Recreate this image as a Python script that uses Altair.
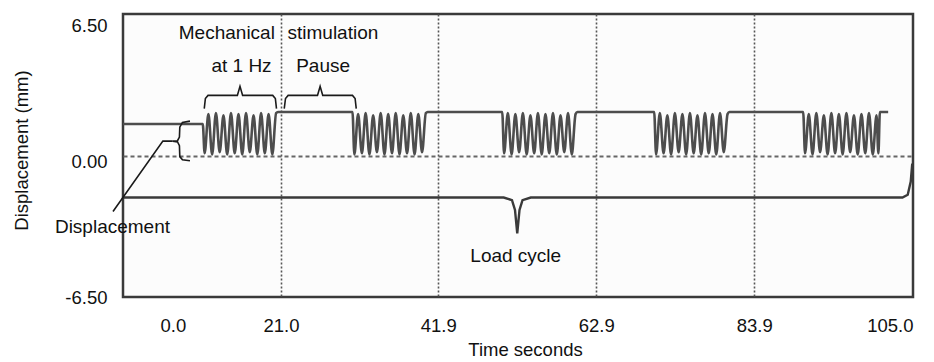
import altair as alt
import pandas as pd

# ---------------- signal (time in s, displacement in mm) ----------------
sig_t = [0.0, 10.6,
         10.85, 11.35, 11.85, 12.35, 12.85, 13.35, 13.85, 14.35, 14.85, 15.35,
         15.85, 16.35, 16.85, 17.35, 17.85, 18.35, 18.85, 19.35, 19.85, 20.35,
         20.6, 30.5,
         30.75, 31.25, 31.75, 32.25, 32.75, 33.25, 33.75, 34.25, 34.75, 35.25,
         35.75, 36.25, 36.75, 37.25, 37.75, 38.25, 38.75, 39.25, 39.75, 40.25,
         40.5, 50.4,
         50.65, 51.15, 51.65, 52.15, 52.65, 53.15, 53.65, 54.15, 54.65, 55.15,
         55.65, 56.15, 56.65, 57.15, 57.65, 58.15, 58.65, 59.15, 59.65, 60.15,
         60.4, 70.6,
         70.85, 71.35, 71.85, 72.35, 72.85, 73.35, 73.85, 74.35, 74.85, 75.35,
         75.85, 76.35, 76.85, 77.35, 77.85, 78.35, 78.85, 79.35, 79.85, 80.35,
         80.6, 90.4,
         90.65, 91.15, 91.65, 92.15, 92.65, 93.15, 93.65, 94.15, 94.65, 95.15,
         95.65, 96.15, 96.65, 97.15, 97.65, 98.15, 98.65, 99.15, 99.65, 100.15,
         100.4, 100.6, 101.7]
sig_v = [1.45, 1.45,
         0.10, 1.90, 0.05, 1.95, 0.15, 1.85, 0.05, 1.95, 0.10, 1.90,
         0.05, 1.95, 0.15, 1.85, 0.05, 1.95, 0.10, 1.90, 0.05, 1.95,
         2.00, 2.00,
         0.05, 1.90, 0.10, 1.95, 0.05, 1.85, 0.15, 1.95, 0.05, 1.90,
         0.10, 1.95, 0.05, 1.85, 0.10, 1.95, 0.05, 1.90, 0.15, 1.95,
         2.00, 2.00,
         0.10, 1.95, 0.05, 1.90, 0.15, 1.95, 0.05, 1.85, 0.10, 1.95,
         0.05, 1.90, 0.10, 1.95, 0.05, 1.85, 0.15, 1.95, 0.05, 1.90,
         2.00, 2.00,
         0.05, 1.95, 0.10, 1.85, 0.05, 1.95, 0.15, 1.90, 0.05, 1.95,
         0.10, 1.85, 0.05, 1.95, 0.10, 1.90, 0.05, 1.95, 0.15, 1.90,
         2.00, 2.00,
         0.10, 1.90, 0.05, 1.95, 0.15, 1.85, 0.05, 1.95, 0.10, 1.90,
         0.05, 1.95, 0.15, 1.85, 0.05, 1.90, 0.10, 1.95, 0.05, 1.85,
         0.10, 2.00, 2.00]

# ---------------- annotation braces (data units) ----------------
mech_t = [10.8, 10.95, 11.3, 15.2, 15.55, 15.9, 19.9, 20.25, 20.4]
mech_v = [2.15, 2.62, 2.76, 2.76, 3.18, 2.76, 2.76, 2.62, 2.15]
pause_t = [21.43, 21.6, 21.95, 25.85, 26.2, 26.55, 30.5, 30.85, 31.0]
pause_v = [2.15, 2.62, 2.76, 2.76, 3.18, 2.76, 2.76, 2.62, 2.15]
disp_t = [8.9, 7.9, 7.55, 7.5, 7.25, 6.6, 7.25, 7.5, 7.55, 7.9, 8.9]
disp_v = [1.58, 1.52, 1.3, 0.85, 0.68, 0.66, 0.62, 0.45, -0.05, -0.2, -0.24]
pointer_t = [-1.33, 5.3, 6.6]
pointer_v = [-2.57, 0.66, 0.66]
load_t = [0.05, 50.6, 51.7, 52.1, 52.4, 52.7, 53.1, 54.2, 103.6, 104.3, 104.7, 104.9]
load_v = [-1.93, -1.93, -2.05, -2.5, -3.58, -2.5, -2.05, -1.93, -1.93, -1.8, -1.2, -0.37]

# ---------------- annotation texts ----------------
ann_text = ["Mechanical", "stimulation", "at 1 Hz", "Pause", "Displacement", "Load cycle"]
ann_t = [13.8, 27.9, 15.75, 26.6, -1.4, 52.2]
ann_v = [5.37, 5.37, 3.84, 3.84, -3.58, -4.87]

# ---------------- axes ----------------
x_ticks = [0.0, 21.0, 41.9, 62.9, 83.9, 105.0]
y_ticks = [-6.5, 0.0, 6.5]
x_title = "Time seconds"
y_title = "Displacement (mm)"

sig_df = pd.DataFrame({"t": sig_t, "v": sig_v, "i": list(range(len(sig_t)))})

rows = []
for g, ts, vs in [("mech", mech_t, mech_v), ("pause", pause_t, pause_v),
                  ("disp", disp_t, disp_v), ("pointer", pointer_t, pointer_v)]:
    for k, (a, b) in enumerate(zip(ts, vs)):
        rows.append({"g": g, "o": k, "t": a, "v": b})
brace_df = pd.DataFrame(rows)
load_df = pd.DataFrame({"t": load_t, "v": load_v, "o": list(range(len(load_t)))})
ann_df = pd.DataFrame({"text": ann_text, "t": ann_t, "v": ann_v})

xs = alt.Scale(domain=[0, 105], nice=False, zero=False)
ys = alt.Scale(domain=[-6.5, 6.5], nice=False, zero=False)

x_axis = alt.Axis(
    values=x_ticks, format=".1f", title=x_title, domain=False, ticks=False,
    grid=True, gridDash=[2, 2], gridColor="#555555", gridWidth=1.6,
    gridOpacity={"condition": {"test": "datum.value <= 0 || datum.value >= 105", "value": 0}, "value": 1},
    labelFont="Liberation Sans", labelFontSize=18.5, labelColor="#111111",
    labelPadding=19,
    labelOffset={"condition": {"test": "datum.value == 0", "value": 37}, "value": 0},
    titleFont="Liberation Sans", titleFontSize=18.5, titleFontWeight="normal", titleColor="#111111",
    titleX=402, titleY=43, titleBaseline="top",
)
y_axis = alt.Axis(
    values=y_ticks, format=".2f", title=y_title, domain=False, ticks=False,
    labelExpr="replace(datum.label, '\u2212', '-')",
    grid=True, gridDash=[4, 3], gridColor="#666666", gridWidth=2,
    gridOpacity={"condition": {"test": "abs(datum.value) > 1", "value": 0}, "value": 1},
    labelFont="Liberation Sans", labelFontSize=18.5, labelColor="#111111",
    labelPadding=16,
    labelOffset={"condition": [{"test": "datum.value > 1", "value": 11},
                               {"test": "abs(datum.value) < 1", "value": 6}], "value": 0},
    titleFont="Liberation Sans", titleFontSize=18.5, titleFontWeight="normal", titleColor="#111111",
    titleX=-92, titleY=136, titleAngle=-90, titleBaseline="bottom",
)

signal = alt.Chart(sig_df).mark_line(color="#4d4d4d", strokeWidth=2.6, interpolate="monotone").encode(
    x=alt.X("t:Q", scale=xs, axis=x_axis),
    y=alt.Y("v:Q", scale=ys, axis=y_axis),
    order="i:Q",
)
braces = alt.Chart(brace_df).mark_line(color="#1a1a1a", strokeWidth=1.6).encode(
    x=alt.X("t:Q", scale=xs), y=alt.Y("v:Q", scale=ys), detail="g:N", order="o:Q",
)
load = alt.Chart(load_df).mark_line(color="#3a3a3a", strokeWidth=2.4).encode(
    x=alt.X("t:Q", scale=xs), y=alt.Y("v:Q", scale=ys), order="o:Q",
)
texts = alt.Chart(ann_df).mark_text(
    font="Liberation Sans", fontSize=19, baseline="alphabetic", align="center", color="#111111"
).encode(x=alt.X("t:Q", scale=xs), y=alt.Y("v:Q", scale=ys), text="text:N")

chart = alt.layer(signal, load, braces, texts).properties(
    width=790, height=283,
    padding={"left": 115, "top": 6, "right": 13, "bottom": 64},
    autosize=alt.AutoSizeParams(type="none"),
).configure_view(stroke="#3a3a3a", strokeWidth=2.5, fill="#fcfcfc")

chart.save("out.html", embed_options={"renderer": "svg", "actions": False})
